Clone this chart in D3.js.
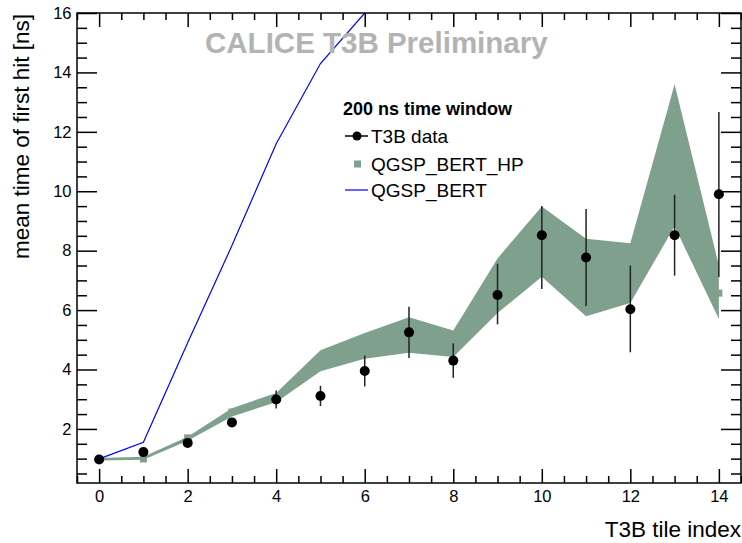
<!DOCTYPE html>
<html>
<head>
<meta charset="utf-8">
<script src="https://cdn.jsdelivr.net/npm/d3@7"></script>
<style>
  body { margin: 0; background: #fff; }
  svg { display: block; font-family: "Liberation Sans", Arial, sans-serif; }
</style>
</head>
<body>
<div id="chart"></div>
<script>
// Mean time of first hit vs T3B tile index (200 ns window).

// T3B data points with (asymmetric) errors
var tiles = [0, 1, 2, 3, 4, 5, 6, 7, 8, 9, 10, 11, 12, 13, 14];
var dataMean = [0.97, 1.22, 1.53, 2.22, 2.99, 3.11, 3.95, 5.25, 4.30, 6.51, 8.52, 7.77, 6.03, 8.52, 9.90];
var errUp = [0.05, 0.08, 0.08, 0.08, 0.30, 0.34, 0.52, 0.86, 0.58, 1.05, 0.98, 1.63, 1.47, 1.36, 2.77];
var errDown = [0.05, 0.08, 0.08, 0.08, 0.30, 0.34, 0.52, 0.86, 0.58, 0.99, 1.81, 1.63, 1.45, 1.36, 2.79];

// QGSP_BERT_HP band
var hpCentre = [0.98, 0.99, 1.70, 2.57, 3.05, 4.30, 4.80, 5.16, 4.86, 6.80, 8.30, 7.10, 7.25, 11.20, 6.57];
var hpUpper = [1.02, 1.06, 1.74, 2.70, 3.21, 4.65, 5.23, 5.76, 5.31, 7.74, 9.49, 8.40, 8.25, 13.60, 7.50];
var hpLower = [0.94, 0.96, 1.60, 2.42, 2.90, 3.94, 4.36, 4.56, 4.42, 5.90, 7.12, 5.79, 6.24, 8.82, 5.70];

// QGSP_BERT line (runs off the top after tile 6)
var bertTiles = [0, 1, 2, 3, 4, 5, 6];
var bertMean = [0.99, 1.55, 4.90, 8.17, 11.60, 14.30, 16.00];

var xMajor = [0, 2, 4, 6, 8, 10, 12, 14];
var yMajor = [2, 4, 6, 8, 10, 12, 14, 16];
var legendLabels = ["T3B data", "QGSP_BERT_HP", "QGSP_BERT"];

var W = 742, H = 543;
var padL = 77, padR = 741, padT = 13, padB = 483; // frame edges
var bandColor = "rgb(127,160,140)";

var svg = d3.select("#chart").append("svg")
    .attr("width", W)
    .attr("height", H);

var x = d3.scaleLinear().domain([-0.5, 14.5]).range([padL, padR]);
var y = d3.scaleLinear().domain([0.18, 16]).range([padB, padT]);

svg.append("clipPath").attr("id", "frameclip")
  .append("rect")
    .attr("x", padL).attr("y", padT)
    .attr("width", padR - padL).attr("height", padB - padT);

var plot = svg.append("g").attr("clip-path", "url(#frameclip)");

// band
var area = d3.area()
    .x(function(d, i) { return x(tiles[i]); })
    .y0(function(d, i) { return y(hpLower[i]); })
    .y1(function(d, i) { return y(hpUpper[i]); });
plot.append("path")
    .datum(tiles)
    .attr("d", area)
    .attr("fill", bandColor);

plot.selectAll("rect.hp").data(tiles).enter()
  .append("rect")
    .attr("class", "hp")
    .attr("x", function(d) { return x(d) - 3.5; })
    .attr("y", function(d, i) { return y(hpCentre[i]) - 3.5; })
    .attr("width", 7).attr("height", 7)
    .attr("fill", bandColor);

// blue line
var line = d3.line()
    .x(function(d, i) { return x(bertTiles[i]); })
    .y(function(d, i) { return y(bertMean[i]); });
plot.append("path")
    .datum(bertTiles)
    .attr("d", line)
    .attr("fill", "none")
    .attr("stroke", "#0000ff")
    .attr("stroke-width", 1.2);

// data: error bars + dots
plot.selectAll("line.err").data(tiles).enter()
  .append("line")
    .attr("class", "err")
    .attr("x1", function(d) { return x(d); })
    .attr("x2", function(d) { return x(d); })
    .attr("y1", function(d, i) { return y(dataMean[i] - errDown[i]); })
    .attr("y2", function(d, i) { return y(dataMean[i] + errUp[i]); })
    .attr("stroke", "#222")
    .attr("stroke-width", 1.5);

plot.selectAll("circle.pt").data(tiles).enter()
  .append("circle")
    .attr("class", "pt")
    .attr("cx", function(d) { return x(d); })
    .attr("cy", function(d, i) { return y(dataMean[i]); })
    .attr("r", 5)
    .attr("fill", "#000");

// axes, ticks pointing inward
function minorTicks(lo, hi, step, majors) {
  var out = [];
  for (var v = lo; v <= hi + 1e-9; v += step) {
    var r = Math.round(v * 10) / 10;
    if (majors.indexOf(r) < 0) out.push(r);
  }
  return out;
}
var xMinor = minorTicks(-0.5, 14.5, 0.5, xMajor);
var yMinor = minorTicks(0.5, 15.5, 0.5, yMajor);

function styleAxis(g) {
  g.select(".domain").remove();
  g.attr("font-size", null).attr("font-family", null);
  g.selectAll(".tick line").attr("stroke", "#000").attr("stroke-width", 1.5);
  g.selectAll("text")
    .attr("fill", "#000")
    .style("font-size", "16.5px");
}

svg.append("g").attr("transform", "translate(0," + padB + ")")
    .call(d3.axisBottom(x).tickValues(xMajor).tickSize(-14).tickPadding(7))
    .call(styleAxis);
svg.append("g").attr("transform", "translate(0," + padB + ")")
    .call(d3.axisBottom(x).tickValues(xMinor).tickSize(-7).tickFormat(""))
    .call(styleAxis);
svg.append("g").attr("transform", "translate(0," + padT + ")")
    .call(d3.axisTop(x).tickValues(xMajor).tickSize(-14).tickFormat(""))
    .call(styleAxis);
svg.append("g").attr("transform", "translate(0," + padT + ")")
    .call(d3.axisTop(x).tickValues(xMinor).tickSize(-7).tickFormat(""))
    .call(styleAxis);

svg.append("g").attr("transform", "translate(" + padL + ",0)")
    .call(d3.axisLeft(y).tickValues(yMajor).tickSize(-20).tickPadding(5.5))
    .call(styleAxis);
svg.append("g").attr("transform", "translate(" + padL + ",0)")
    .call(d3.axisLeft(y).tickValues(yMinor).tickSize(-10).tickFormat(""))
    .call(styleAxis);
svg.append("g").attr("transform", "translate(" + padR + ",0)")
    .call(d3.axisRight(y).tickValues(yMajor).tickSize(-20).tickFormat(""))
    .call(styleAxis);
svg.append("g").attr("transform", "translate(" + padR + ",0)")
    .call(d3.axisRight(y).tickValues(yMinor).tickSize(-10).tickFormat(""))
    .call(styleAxis);

svg.append("rect")
    .attr("x", padL).attr("y", padT)
    .attr("width", padR - padL).attr("height", padB - padT)
    .attr("fill", "none")
    .attr("stroke", "#000")
    .attr("stroke-width", 1.5);

// axis titles
svg.append("text")
    .attr("x", 741).attr("y", 537)
    .attr("text-anchor", "end")
    .style("font-size", "22.5px")
    .text("T3B tile index");

svg.append("text")
    .attr("transform", "translate(29,14) rotate(-90)")
    .attr("text-anchor", "end")
    .style("font-size", "22.5px")
    .text("mean time of first hit [ns]");

// watermark
svg.append("text")
    .attr("x", 205).attr("y", 53)
    .style("font-size", "29.5px")
    .style("font-weight", "bold")
    .attr("fill", "#b3b3b3")
    .text("CALICE T3B Preliminary");

// legend
var leg = svg.append("g").attr("transform", "translate(343,0)");
leg.append("text")
    .attr("x", 0).attr("y", 115)
    .style("font-size", "18px")
    .style("font-weight", "bold")
    .text("200 ns time window");

var legY = [136, 164, 190];
leg.selectAll("text.lab").data(legendLabels).enter()
  .append("text")
    .attr("class", "lab")
    .attr("x", 28)
    .attr("y", function(d, i) { return legY[i] + 6.5; })
    .style("font-size", "19px")
    .text(function(d) { return d; });

leg.append("line")
    .attr("x1", 2).attr("x2", 25).attr("y1", legY[0]).attr("y2", legY[0])
    .attr("stroke", "#000").attr("stroke-width", 1.5);
leg.append("circle")
    .attr("cx", 14).attr("cy", legY[0]).attr("r", 4.5).attr("fill", "#000");
leg.append("rect")
    .attr("x", 11).attr("y", legY[1] - 3.5).attr("width", 7).attr("height", 7)
    .attr("fill", bandColor);
leg.append("line")
    .attr("x1", 2).attr("x2", 25).attr("y1", legY[2]).attr("y2", legY[2])
    .attr("stroke", "#0000ff").attr("stroke-width", 1.2);
</script>
</body>
</html>
